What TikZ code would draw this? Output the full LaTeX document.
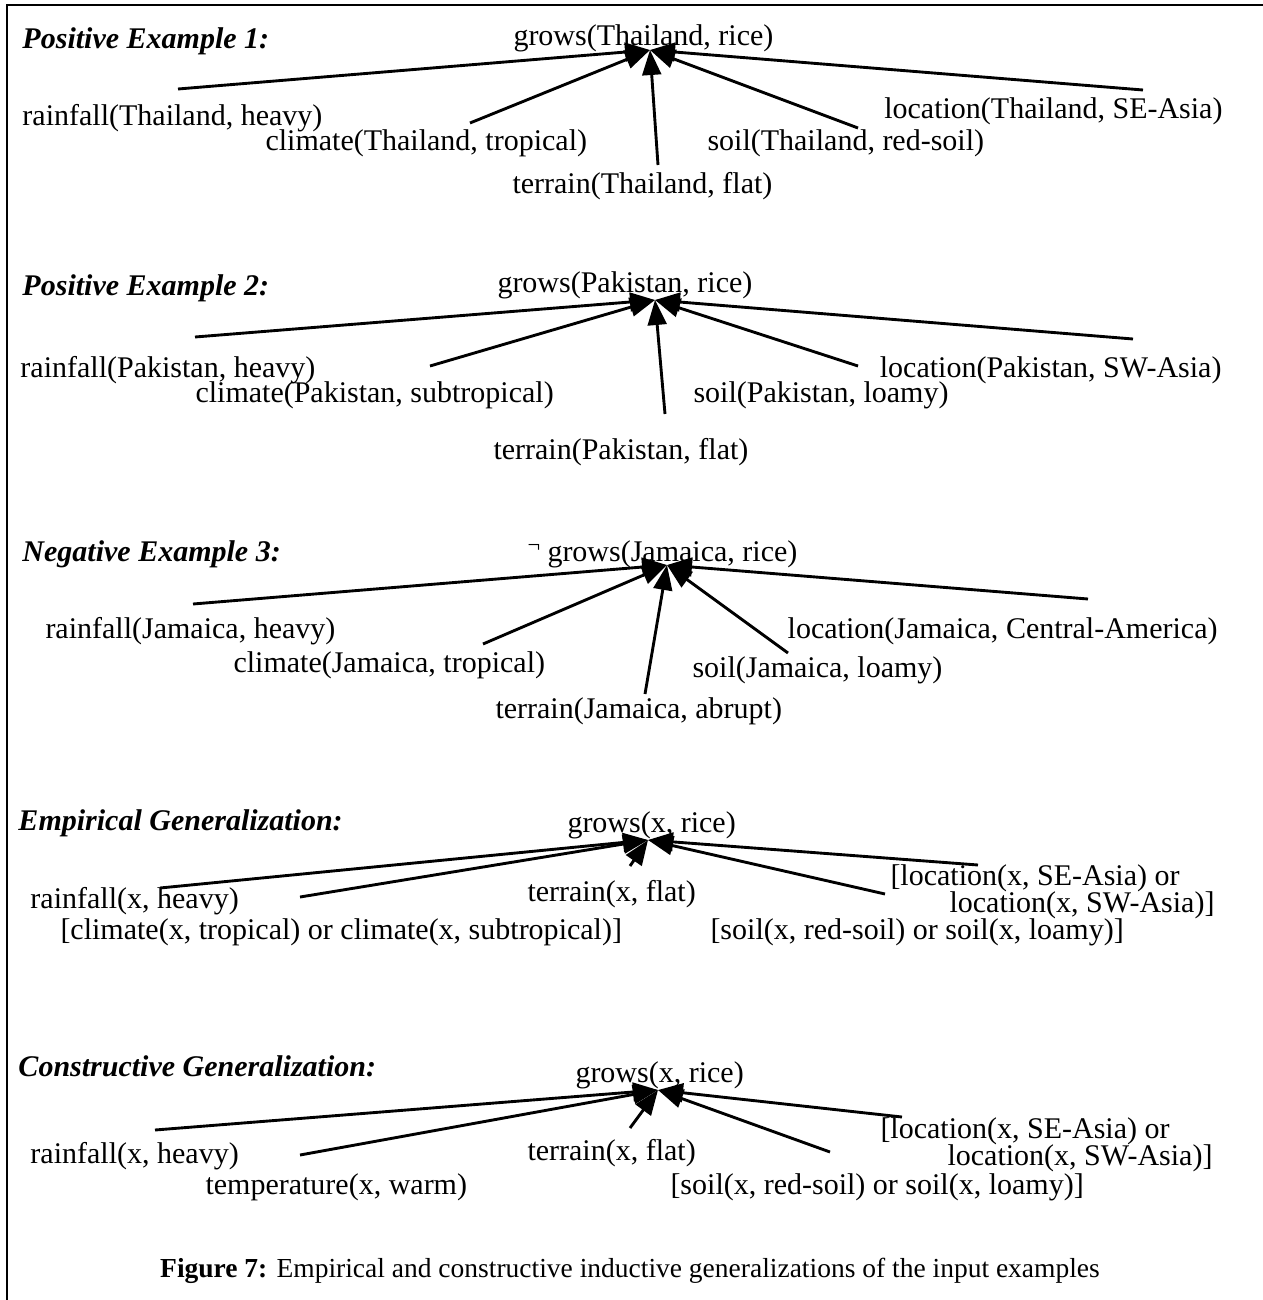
\documentclass[tikz,border=0pt]{standalone}
\usepackage{fontspec}
\setmainfont{Liberation Serif}
\usetikzlibrary{arrows.meta}
\begin{document}
\begin{tikzpicture}[x=0.4pt,y=-0.4pt,
  lbl/.style={anchor=base west, inner sep=0pt, font=\fontsize{12}{14}\selectfont},
  rlbl/.style={lbl, anchor=base east},
  ttl/.style={lbl, font=\fontsize{12}{14}\selectfont\bfseries\itshape},
  arr/.style={line width=1.15pt, -{Triangle[length=10pt,width=7.5pt]}},
  frame/.style={line width=1.1pt}]
\useasboundingbox (0,0) rectangle (1263,1300);
\draw[frame] (7,1300) -- (7,5) -- (1263,5);

% ---------- Section 1 ----------
\node[ttl] (t1) at (22,48) {Positive Example 1:};
\node[lbl] (g1) at (513,45) {grows(Thailand, rice)};
\node[lbl] (rain1) at (22,125) {rainfall(Thailand, heavy)};
\node[rlbl] (loc1) at (1223,118) {location(Thailand, SE-Asia)};
\node[lbl] (clim1) at (265,150) {climate(Thailand, tropical)};
\node[lbl] (soil1) at (707,150) {soil(Thailand, red-soil)};
\node[lbl] (terr1) at (512,193) {terrain(Thailand, flat)};
\coordinate (hub1) at ([shift={(137,5)}]g1.base west);
\draw[arr] ([shift={(156,-36)}]rain1.base west) -- (hub1);
\draw[arr] ([shift={(-80,-28)}]loc1.base east) -- (hub1);
\draw[arr] ([shift={(205,-27)}]clim1.base west) -- (hub1);
\draw[arr] ([shift={(151,-22)}]soil1.base west) -- (hub1);
\draw[arr] ([shift={(146,-28)}]terr1.base west) -- (hub1);

% ---------- Section 2 ----------
\node[ttl] (t2) at (22,295) {Positive Example 2:};
\node[lbl] (g2) at (497,292) {grows(Pakistan, rice)};
\node[lbl] (rain2) at (20,377) {rainfall(Pakistan, heavy)};
\node[rlbl] (loc2) at (1222,377) {location(Pakistan, SW-Asia)};
\node[lbl] (clim2) at (195,402) {climate(Pakistan, subtropical)};
\node[lbl] (soil2) at (693,402) {soil(Pakistan, loamy)};
\node[lbl] (terr2) at (493,459) {terrain(Pakistan, flat)};
\coordinate (hub2) at ([shift={(158,8)}]g2.base west);
\draw[arr] ([shift={(175,-40)}]rain2.base west) -- (hub2);
\draw[arr] ([shift={(-89,-38)}]loc2.base east) -- (hub2);
\draw[arr] ([shift={(235,-36)}]clim2.base west) -- (hub2);
\draw[arr] ([shift={(165,-36)}]soil2.base west) -- (hub2);
\draw[arr] ([shift={(172,-45)}]terr2.base west) -- (hub2);

% ---------- Section 3 ----------
\node[ttl] (t3) at (22,561) {Negative Example 3:};
\node[lbl, font=\fontsize{9}{10}\selectfont] (neg3) at (527,552) {¬};
\node[lbl] (g3) at (547,561) {grows(Jamaica, rice)};
\node[lbl] (rain3) at (45,638) {rainfall(Jamaica, heavy)};
\node[rlbl] (loc3) at (1218,638) {location(Jamaica, Central-America)};
\node[lbl] (clim3) at (233,672) {climate(Jamaica, tropical)};
\node[lbl] (soil3) at (692,677) {soil(Jamaica, loamy)};
\node[lbl] (terr3) at (495,718) {terrain(Jamaica, abrupt)};
\coordinate (hub3) at ([shift={(120,4)}]g3.base west);
\draw[arr] ([shift={(148,-34)}]rain3.base west) -- (hub3);
\draw[arr] ([shift={(-130,-39)}]loc3.base east) -- (hub3);
\draw[arr] ([shift={(250,-28)}]clim3.base west) -- (hub3);
\draw[arr] ([shift={(96,-24)}]soil3.base west) -- (hub3);
\draw[arr] ([shift={(150,-24)}]terr3.base west) -- (hub3);

% ---------- Section 4 ----------
\node[ttl] (t4) at (18,830) {Empirical Generalization:};
\node[lbl] (g4) at (567,832) {grows(x, rice)};
\node[lbl] (rain4) at (30,908) {rainfall(x, heavy)};
\node[lbl] (terr4) at (527,901) {terrain(x, flat)};
\node[lbl] (loc4a) at (890,885) {[location(x, SE-Asia) or};
\node[rlbl] (loc4b) at (1215,912) {location(x, SW-Asia)]};
\node[lbl] (clim4) at (60,939) {[climate(x, tropical) or climate(x, subtropical)]};
\node[lbl] (soil4) at (710,939) {[soil(x, red-soil) or soil(x, loamy)]};
\coordinate (hub4) at ([shift={(81,8)}]g4.base west);
\draw[arr] ([shift={(130,-20)}]rain4.base west) -- (hub4);
\draw[arr] ([shift={(103,-35)}]terr4.base west) -- (hub4);
\draw[arr] ([shift={(88,-20)}]loc4a.base west) -- (hub4);
\draw[arr] ([shift={(240,-42)}]clim4.base west) -- (hub4);
\draw[arr] ([shift={(175,-45)}]soil4.base west) -- (hub4);

% ---------- Section 5 ----------
\node[ttl] (t5) at (18,1076) {Constructive Generalization:};
\node[lbl] (g5) at (575,1082) {grows(x, rice)};
\node[lbl] (rain5) at (30,1163) {rainfall(x, heavy)};
\node[lbl] (terr5) at (527,1160) {terrain(x, flat)};
\node[lbl] (loc5a) at (880,1138) {[location(x, SE-Asia) or};
\node[rlbl] (loc5b) at (1213,1165) {location(x, SW-Asia)]};
\node[lbl] (temp5) at (205,1194) {temperature(x, warm)};
\node[lbl] (soil5) at (670,1194) {[soil(x, red-soil) or soil(x, loamy)]};
\coordinate (hub5) at ([shift={(83,8)}]g5.base west);
\draw[arr] ([shift={(125,-33)}]rain5.base west) -- (hub5);
\draw[arr] ([shift={(103,-32)}]terr5.base west) -- (hub5);
\draw[arr] ([shift={(22,-21)}]loc5a.base west) -- (hub5);
\draw[arr] ([shift={(95,-39)}]temp5.base west) -- (hub5);
\draw[arr] ([shift={(160,-42)}]soil5.base west) -- (hub5);

% ---------- Caption ----------
\node[anchor=base, inner sep=0pt, font=\fontsize{11}{13}\selectfont] (cap) at (630,1277)
  {\textbf{Figure 7:} Empirical and constructive inductive generalizations of the input examples};
\end{tikzpicture}
\end{document}
